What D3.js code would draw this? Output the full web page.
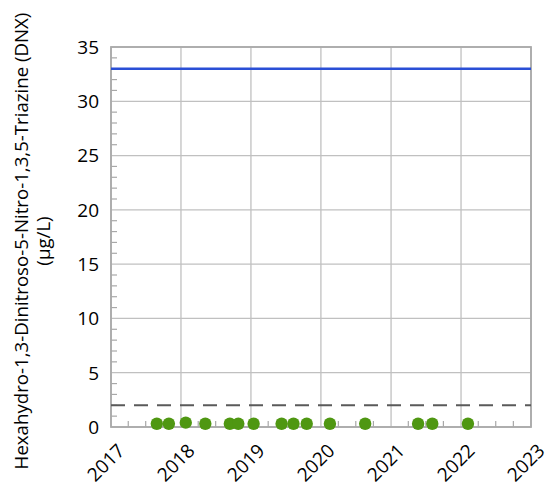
<!DOCTYPE html>
<html><head><meta charset="utf-8">
<script src="https://cdn.jsdelivr.net/npm/d3@7/dist/d3.min.js"></script>
<style>body{margin:0;background:#fff}svg{display:block}</style>
</head><body>
<svg id="c" width="546" height="487"></svg>
<script>
const sampleDates = ["2017-08-28","2017-10-30","2018-01-26","2018-05-08","2018-09-13","2018-10-27","2019-01-15","2019-06-10","2019-08-11","2019-10-19","2020-02-17","2020-08-19","2021-05-22","2021-08-04","2022-02-06"];
const sampleValues = [0.3,0.3,0.4,0.3,0.3,0.3,0.3,0.3,0.3,0.3,0.3,0.3,0.3,0.3,0.3];
const screeningLevel = 33;
const reportingLimit = 2;
const yTicks = [0,5,10,15,20,25,30,35];
const xYears = [2017,2018,2019,2020,2021,2022,2023];
const yTitle1 = "Hexahydro-1,3-Dinitroso-5-Nitro-1,3,5-Triazine (DNX)";
const yTitle2 = "(µg/L)";

const svg = d3.select("#c");
const L = 111, R = 531, T = 47, B = 427;
const font = "'Open Sans', sans-serif";
const x = d3.scaleTime().domain([new Date(2017,0,1), new Date(2023,0,1)]).range([L,R]);
const y = d3.scaleLinear().domain([0,35]).range([B,T]);

// gridlines
const g = svg.append("g");
g.selectAll(".vg").data(xYears).enter().append("line")
  .attr("x1", d=>x(new Date(d,0,1))).attr("x2", d=>x(new Date(d,0,1)))
  .attr("y1", T).attr("y2", B).attr("stroke","#c0c0c0").attr("stroke-width",1.3);
g.selectAll(".hg").data(yTicks).enter().append("line")
  .attr("x1", L).attr("x2", R).attr("y1", d=>y(d)).attr("y2", d=>y(d))
  .attr("stroke","#c0c0c0").attr("stroke-width",1.3);

// minor ticks
const yMinor = d3.range(0,36,1).filter(v=>v%5!==0);
g.selectAll(".ym").data(yMinor).enter().append("line")
  .attr("x1", L).attr("x2", L+6).attr("y1", d=>y(d)).attr("y2", d=>y(d))
  .attr("stroke","#a8a8a8").attr("stroke-width",1.2);
const xMinor = [];
for (let yr=2017; yr<2023; yr++) for (const m of [3,6,9]) xMinor.push(new Date(yr,m,1));
g.selectAll(".xm").data(xMinor).enter().append("line")
  .attr("x1", d=>x(d)).attr("x2", d=>x(d)).attr("y1", B).attr("y2", B-6)
  .attr("stroke","#a8a8a8").attr("stroke-width",1.2);

// frame
svg.append("rect").attr("x",L).attr("y",T).attr("width",R-L).attr("height",B-T)
  .attr("fill","none").attr("stroke","#aaaaaa").attr("stroke-width",1.8);

// reference lines
svg.append("line").attr("x1",L).attr("x2",R).attr("y1",y(screeningLevel)).attr("y2",y(screeningLevel))
  .attr("stroke","#2a4fd6").attr("stroke-width",2.5);
svg.append("line").attr("x1",L).attr("x2",R).attr("y1",y(reportingLimit)).attr("y2",y(reportingLimit))
  .attr("stroke","#5a5a5a").attr("stroke-width",2).attr("stroke-dasharray","14,9");

// points
const pts = sampleDates.map((d,i)=>({d:d3.timeParse("%Y-%m-%d")(d), v:sampleValues[i]}));
svg.selectAll(".pt").data(pts).enter().append("circle")
  .attr("cx", d=>x(d.d)).attr("cy", d=>y(d.v)).attr("r",6.2).attr("fill","#4f9712");

// y tick labels
svg.selectAll(".yl").data(yTicks).enter().append("text")
  .attr("x", 99).attr("y", d=>y(d)).attr("dy","0.36em").attr("text-anchor","end")
  .attr("font-family",font).attr("font-size",19).attr("fill","#000").text(d=>d);

// x tick labels
svg.selectAll(".xl").data(xYears).enter().append("text")
  .attr("transform", d=>`translate(${x(new Date(d,0,1))+15},${B+25}) rotate(-45)`)
  .attr("text-anchor","end")
  .attr("font-family",font).attr("font-size",19).attr("fill","#000").text(d=>d);

// y title
const t1 = svg.append("text").attr("text-anchor","middle")
  .attr("transform","translate(28,241) rotate(-90)")
  .attr("font-family",font).attr("font-size",16).attr("fill","#000").text(yTitle1);
const len = t1.node().getComputedTextLength();
const fs = 16*457/len;
t1.attr("font-size", fs);
svg.append("text").attr("text-anchor","middle")
  .attr("transform",`translate(${28+fs*1.2},241) rotate(-90)`)
  .attr("font-family",font).attr("font-size",fs).attr("fill","#000").text(yTitle2);
</script>
</body></html>
